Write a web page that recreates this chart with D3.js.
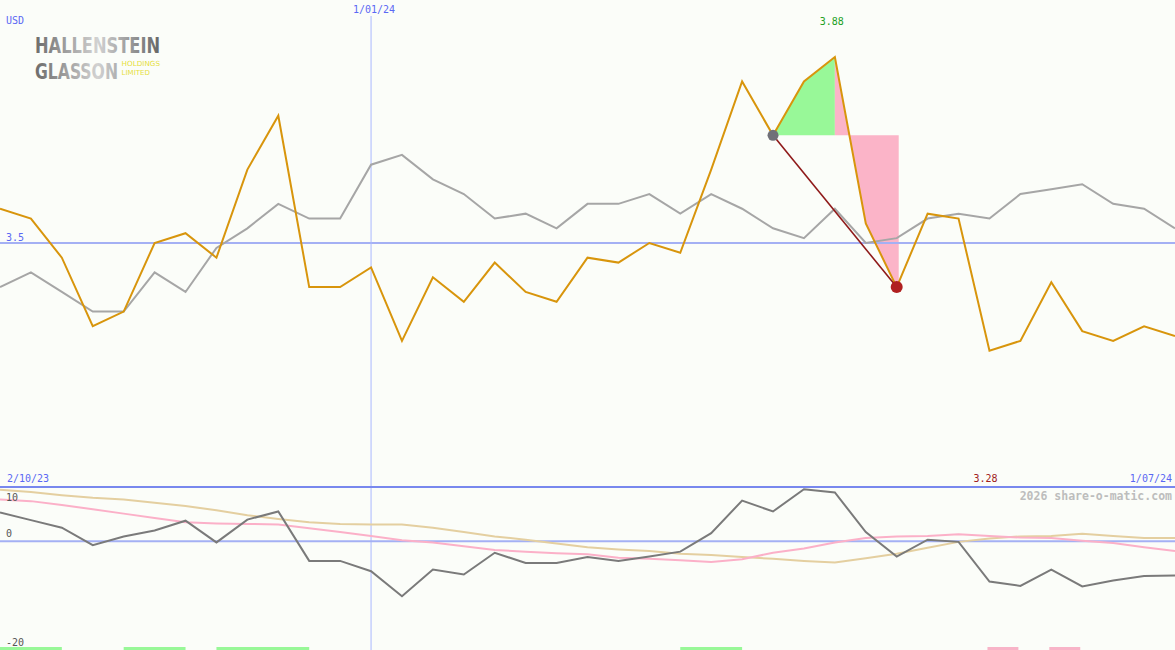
<!DOCTYPE html>
<html><head><meta charset="utf-8">
<script src="https://cdn.jsdelivr.net/npm/d3@7"></script>
<style>html,body{margin:0;padding:0;background:#fbfdf9;}svg{display:block;}</style>
</head><body><svg id="c" width="1175" height="650"></svg>
<script>
// ---- data (weekly points, index 0..38) ----
const price = [3.57,3.55,3.47,3.33,3.36,3.50,3.52,3.47,3.65,3.76,3.41,3.41,3.45,3.30,3.43,3.38,3.46,3.40,3.38,3.47,3.46,3.50,3.48,3.65,3.83,3.72,3.83,3.88,3.54,3.41,3.56,3.55,3.28,3.30,3.42,3.32,3.30,3.33,3.31];
const index = [3.41,3.44,3.40,3.36,3.36,3.44,3.40,3.49,3.53,3.58,3.55,3.55,3.66,3.68,3.63,3.60,3.55,3.56,3.53,3.58,3.58,3.60,3.56,3.60,3.57,3.53,3.51,3.57,3.50,3.51,3.55,3.56,3.55,3.60,3.61,3.62,3.58,3.57,3.53];
const momentum = [5.3,3.9,2.5,-0.7,0.9,2.0,3.8,-0.2,4.0,5.5,-3.6,-3.6,-5.5,-10.1,-5.2,-6.1,-2.1,-4.0,-4.0,-2.9,-3.6,-2.8,-1.9,1.5,7.5,5.5,9.6,9.0,1.7,-2.8,0.3,-0.1,-7.4,-8.2,-5.2,-8.3,-7.2,-6.4,-6.3];
const smoothFast = [7.7,7.4,6.7,5.9,5.1,4.3,3.5,3.3,3.2,3.1,2.4,1.7,1.0,0.2,-0.2,-0.9,-1.6,-1.9,-2.2,-2.4,-3.0,-3.2,-3.5,-3.8,-3.3,-2.1,-1.3,-0.2,0.6,0.9,1.0,1.3,1.0,0.7,0.6,0.1,-0.3,-1.1,-1.8];
const smoothSlow = [9.5,9.1,8.5,8.0,7.7,7.1,6.5,5.7,4.8,4.1,3.5,3.2,3.1,3.1,2.5,1.7,0.9,0.3,-0.4,-1.1,-1.5,-1.8,-2.3,-2.5,-2.9,-3.2,-3.6,-3.9,-3.1,-2.3,-1.2,-0.1,0.5,0.9,1.0,1.4,1.0,0.6,0.6];
const buyBands = [[0,2],[4,6],[7,10],[22,24]];
const sellBands = [[32,33],[34,35]];
const trade = {entry:25, peak:27, exit:29};
const dateLabels = ["2/10/23","1/01/24","1/07/24"];
const yearMarkIndex = 12;
const refLevel = 3.5;
const oscTicks = [10,0,-20];
const currency = "USD";
const credit = "2026 share-o-matic.com";

// ---- scales ----
const W = 1175, H = 650;
const svg = d3.select("#c");
const x = d3.scaleLinear().domain([0, price.length-1]).range([0, W]);
const y = d3.scaleLinear().domain(d3.extent(price)).range([350.7, 57]);
const yo = d3.scaleLinear().domain([-20, 10]).range([650, 487]);
const mono = "'DejaVu Sans Mono', monospace";
const blue = "#5a68f4";

svg.append("rect").attr("width",W).attr("height",H).attr("fill","#fbfdf9");

// signal bands at bottom
svg.selectAll("rect.buy").data(buyBands).join("rect")
  .attr("x",d=>x(d[0])).attr("width",d=>x(d[1])-x(d[0])).attr("y",647).attr("height",3).attr("fill","#98f898");
svg.selectAll("rect.sell").data(sellBands).join("rect")
  .attr("x",d=>x(d[0])-2).attr("width",d=>x(d[1])-x(d[0])).attr("y",647).attr("height",3).attr("fill","#f8b4c8");

// trade shading
const entryV = price[trade.entry], exitV = price[trade.exit];
const greenPts = d3.range(trade.entry, trade.peak+1).map(i=>[x(i), y(price[i])]);
greenPts.push([x(trade.peak), y(entryV)]);
svg.append("path").attr("d", d3.line()(greenPts)+"Z").attr("fill","#98f898");
const pinkPts = [[x(trade.peak), y(price[trade.peak])],[x(trade.peak), y(entryV)],[x(trade.exit)+2, y(entryV)],[x(trade.exit)+2, y(exitV)]];
for (let i=trade.exit; i>=trade.peak; i--) pinkPts.push([x(i), y(price[i])]);
svg.append("path").attr("d", d3.line()(pinkPts)+"Z").attr("fill","#fbb4c8").attr("fill-rule","nonzero");

// reference lines
svg.append("line").attr("x1",0).attr("x2",W).attr("y1",y(refLevel)).attr("y2",y(refLevel)).attr("stroke","#a4b0f4").attr("stroke-width",2);
svg.append("line").attr("x1",x(yearMarkIndex)).attr("x2",x(yearMarkIndex)).attr("y1",16).attr("y2",H).attr("stroke","#aab8ff").attr("stroke-width",1);
svg.append("line").attr("x1",0).attr("x2",W).attr("y1",yo(10)).attr("y2",yo(10)).attr("stroke","#7888ee").attr("stroke-width",2);
svg.append("line").attr("x1",0).attr("x2",W).attr("y1",yo(0)).attr("y2",yo(0)).attr("stroke","#a4b0f4").attr("stroke-width",2);

// main lines
const lineP = d3.line().x((d,i)=>x(i)).y(d=>y(d));
svg.append("path").attr("d",lineP(index)).attr("fill","none").attr("stroke","#a6a6a6").attr("stroke-width",2);
svg.append("path").attr("d",lineP(price)).attr("fill","none").attr("stroke","#d8950c").attr("stroke-width",2);

// trade line and dots
svg.append("line").attr("x1",x(trade.entry)).attr("y1",y(entryV)).attr("x2",x(trade.exit)).attr("y2",y(exitV)).attr("stroke","#8f1a1a").attr("stroke-width",1.6);
svg.append("circle").attr("cx",x(trade.entry)).attr("cy",y(entryV)).attr("r",5.5).attr("fill","#707078");
svg.append("circle").attr("cx",x(trade.exit)).attr("cy",y(exitV)).attr("r",6).attr("fill","#b02020");

// oscillator lines
const lineO = d3.line().x((d,i)=>x(i)).y(d=>yo(d));
svg.append("path").attr("d",lineO(smoothSlow)).attr("fill","none").attr("stroke","#e4cfa0").attr("stroke-width",2);
svg.append("path").attr("d",lineO(smoothFast)).attr("fill","none").attr("stroke","#fbb0c8").attr("stroke-width",2);
svg.append("path").attr("d",lineO(momentum)).attr("fill","none").attr("stroke","#7a7a7a").attr("stroke-width",2);

// texts
const t = (txt,xx,yy,col,anchor,size,weight)=>svg.append("text").text(txt).attr("x",xx).attr("y",yy)
  .attr("fill",col).attr("text-anchor",anchor||"start").attr("font-family",mono).attr("font-size",size||10).attr("font-weight",weight||"normal");
t(currency,6,24,blue);
t(dateLabels[1],x(yearMarkIndex)+3,13,blue,"middle");
const iMax = d3.maxIndex(price), iMin = d3.minIndex(price);
t(d3.format(".2f")(price[iMax]),x(iMax)-3,25,"#22a022","middle");
t(String(refLevel),6,241,blue);
t(dateLabels[0],7,482,blue);
t(d3.format(".2f")(price[iMin]),x(iMin)-4,482,"#a02020","middle");
t(dateLabels[2],1172,482,blue,"end");
t(credit,1172,500,"#bdbdbd","end",11.5,"bold");
t(String(oscTicks[0]),6,501,"#555");
t(String(oscTicks[1]),6,537,"#555");
t(String(oscTicks[2]),6,646,"#555");

// logo
const defs = svg.append("defs");
const g = defs.append("linearGradient").attr("id","lg").attr("gradientUnits","userSpaceOnUse").attr("x1",0).attr("x2",125).attr("y1",0).attr("y2",0);
g.append("stop").attr("offset",0).attr("stop-color","#6c6c6c");
g.append("stop").attr("offset",0.5).attr("stop-color","#d2d2d2");
g.append("stop").attr("offset",1).attr("stop-color","#666");
const logoFont = "'DejaVu Sans Condensed','Liberation Sans Narrow',sans-serif";
svg.append("text").text("HALLENSTEIN").attr("transform","translate(35,52.8) scale(1,1.24)")
  .attr("font-family",logoFont).attr("font-weight","bold").attr("font-size",17.6).attr("textLength",125).attr("lengthAdjust","spacingAndGlyphs").attr("fill","url(#lg)");
svg.append("text").text("GLASSON").attr("transform","translate(35,79) scale(1,1.24)")
  .attr("font-family",logoFont).attr("font-weight","bold").attr("font-size",17.6).attr("textLength",83).attr("lengthAdjust","spacingAndGlyphs").attr("fill","url(#lg)");
svg.append("text").text("HOLDINGS").attr("x",121.5).attr("y",66).attr("font-family","'DejaVu Sans',sans-serif").attr("font-size",7).attr("textLength",38.5).attr("lengthAdjust","spacingAndGlyphs").attr("fill","#e6e040");
svg.append("text").text("LIMITED").attr("x",121.5).attr("y",74.5).attr("font-family","'DejaVu Sans',sans-serif").attr("font-size",7).attr("textLength",28.5).attr("lengthAdjust","spacingAndGlyphs").attr("fill","#e6e040");
</script></body></html>
